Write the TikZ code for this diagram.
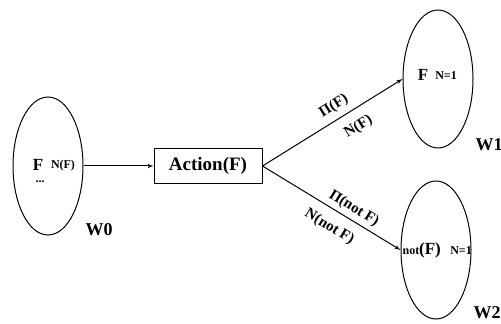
\documentclass[tikz,border=0pt]{standalone}
\usepackage{fontspec}
\setmainfont{Liberation Serif}
\usetikzlibrary{arrows,shapes.geometric}
\tikzstyle{world}=[draw, ellipse, line width=1pt, minimum width=70pt, minimum height=138pt]
\tikzstyle{act}=[draw, line width=1pt, minimum width=108pt, minimum height=35pt, font=\fontsize{19}{21}\selectfont\bfseries]
\tikzstyle{wlab}=[font=\fontsize{18}{20}\selectfont\bfseries]
\tikzstyle{big}=[inner sep=0pt, font=\fontsize{17}{19}\selectfont\bfseries]
\tikzstyle{small}=[inner sep=0pt, font=\fontsize{12}{14}\selectfont\bfseries]
\tikzstyle{elab}=[sloped, inner sep=2pt, font=\fontsize{15}{17}\selectfont\bfseries]

\begin{document}
\begin{tikzpicture}[node distance=160pt,auto,>=latex',x=1pt,y=1pt]
    \useasboundingbox (0,0) rectangle (501,324);
    \node [world] (w0) at (48,158) {};
    \node [act] (a) [right of=w0] {Action(F)};
    \node [world] (w1) at (438,245) {};
    \node [world] (w2) at (436,74) {};
    % worlds' contents
    \node [big] (f0) at (38,159) {F};
    \node [small] (n0) at (63,158) {N(F)};
    \node [small] (d0) at (40,142) {...};
    \node [big] (f1) at (423,249) {F};
    \node [small] (n1) at (446,248) {N=1};
    \node [small] (not2) at (411,73) {not};
    \node [big] (f2) at (430,74) {(F)};
    \node [small] (n2) at (461,73) {N=1};
    \node [wlab] (l0) at (99,94) {W0};
    \node [wlab] (l1) at (489,179) {W1};
    \node [wlab] (l2) at (487,11) {W2};
    \path[->,line width=1pt] (w0) edge (a);
    \draw[->,line width=1pt] (a.east) -- (w1.west)
        node [elab, above=4pt, pos=0.56] {Π(F)}
        node [elab, below=8pt, pos=0.62] {N(F)};
    \draw[->,line width=1pt] (a.east) -- (w2.west)
        node [elab, above=2pt, pos=0.62] {Π(not F)}
        node [elab, below=8pt, pos=0.55] {N(not F)};
\end{tikzpicture}
\end{document}
